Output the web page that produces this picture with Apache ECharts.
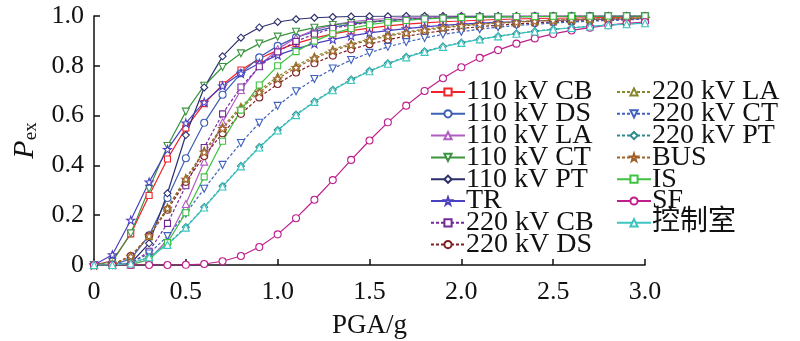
<!DOCTYPE html>
<html><head><meta charset="utf-8">
<script src="https://cdn.jsdelivr.net/npm/echarts@6/dist/echarts.min.js"></script>
<style>html,body{margin:0;padding:0;background:#fff}#c{width:800px;height:341px}</style>
</head><body><div id="c"></div>
<script>
const PGA = [0,0.1,0.2,0.3,0.4,0.5,0.6,0.7,0.8,0.9,1.0,1.1,1.2,1.3,1.4,1.5,1.6,1.7,1.8,1.9,2.0,2.1,2.2,2.3,2.4,2.5,2.6,2.7,2.8,2.9,3.0];
const CB110 = [0,0.017,0.125,0.279,0.426,0.55,0.648,0.724,0.783,0.828,0.863,0.89,0.911,0.928,0.941,0.951,0.96,0.967,0.972,0.977,0.98,0.983,0.986,0.988,0.99,0.991,0.992,0.993,0.994,0.995,0.996];
const DS110 = [0,0.0004,0.024,0.119,0.269,0.429,0.571,0.684,0.77,0.834,0.88,0.914,0.937,0.955,0.967,0.976,0.982,0.987,0.99,0.992,0.994,0.996,0.997,0.997,0.998,0.998,0.999,0.999,0.999,0.999,1];
const LA110 = [0,0,0.001,0.022,0.101,0.245,0.415,0.573,0.703,0.799,0.867,0.913,0.944,0.964,0.977,0.985,0.99,0.994,0.996,0.997,0.998,0.999,0.999,0.999,1,1,1,1,1,1,1];
const CT110 = [0,0.013,0.127,0.306,0.478,0.616,0.72,0.795,0.85,0.889,0.917,0.937,0.953,0.964,0.972,0.978,0.983,0.987,0.99,0.992,0.993,0.995,0.996,0.996,0.997,0.998,0.998,0.998,0.999,0.999,0.999];
const PT110 = [0,0,0.007,0.087,0.288,0.522,0.713,0.838,0.913,0.954,0.976,0.987,0.993,0.996,0.998,0.999,0.999,1,1,1,1,1,1,1,1,1,1,1,1,1,1];
const TR = [0,0.041,0.18,0.333,0.464,0.57,0.654,0.719,0.77,0.81,0.843,0.868,0.889,0.906,0.92,0.932,0.941,0.949,0.956,0.962,0.967,0.971,0.974,0.977,0.98,0.982,0.984,0.986,0.987,0.988,0.99];
const CB220 = [0,0,0.006,0.055,0.167,0.318,0.472,0.607,0.715,0.796,0.856,0.898,0.928,0.95,0.964,0.975,0.982,0.987,0.991,0.993,0.995,0.997,0.998,0.998,0.999,0.999,0.999,1,1,1,1];
const DS220 = [0,0.002,0.036,0.116,0.222,0.334,0.438,0.529,0.607,0.673,0.727,0.773,0.81,0.841,0.866,0.887,0.905,0.919,0.931,0.941,0.95,0.957,0.963,0.968,0.972,0.976,0.979,0.982,0.984,0.986,0.988];
const LA220 = [0,0.002,0.034,0.117,0.23,0.349,0.459,0.555,0.636,0.702,0.757,0.801,0.837,0.866,0.889,0.908,0.924,0.936,0.947,0.956,0.963,0.968,0.973,0.977,0.981,0.983,0.986,0.988,0.99,0.991,0.992];
const CT220 = [0,0,0.009,0.046,0.116,0.207,0.306,0.402,0.49,0.571,0.639,0.698,0.747,0.789,0.823,0.852,0.876,0.895,0.912,0.926,0.937,0.947,0.955,0.962,0.967,0.972,0.976,0.979,0.982,0.985,0.987];
const PT220 = [0,0,0.006,0.032,0.084,0.152,0.233,0.317,0.398,0.474,0.542,0.604,0.657,0.704,0.745,0.78,0.81,0.836,0.858,0.878,0.893,0.907,0.919,0.93,0.939,0.947,0.953,0.959,0.964,0.968,0.972];
const BUS = [0,0.002,0.035,0.117,0.228,0.345,0.453,0.548,0.628,0.694,0.748,0.793,0.83,0.86,0.884,0.903,0.919,0.932,0.943,0.952,0.96,0.966,0.971,0.975,0.979,0.982,0.985,0.987,0.989,0.99,0.991];
const IS = [0,0,0.001,0.022,0.09,0.21,0.354,0.497,0.622,0.723,0.8,0.857,0.899,0.929,0.95,0.965,0.975,0.982,0.988,0.991,0.994,0.996,0.997,0.998,0.998,0.999,0.999,0.999,1,1,1];
const SF = [0,0,0,0,0.0001,0.0008,0.004,0.015,0.036,0.072,0.123,0.188,0.262,0.341,0.422,0.5,0.573,0.64,0.699,0.75,0.794,0.832,0.863,0.889,0.91,0.928,0.942,0.953,0.963,0.97,0.976];
const CTRL = [0,0.0001,0.006,0.031,0.081,0.15,0.231,0.315,0.396,0.472,0.54,0.602,0.655,0.702,0.743,0.778,0.808,0.834,0.856,0.876,0.892,0.906,0.918,0.929,0.938,0.946,0.952,0.958,0.963,0.967,0.971];

const X_TICKS = ['0','0.5','1.0','1.5','2.0','2.5','3.0'];
const Y_TICKS = ['0','0.2','0.4','0.6','0.8','1.0'];

const STAR = 'path://M0,-10 L2.35,-3.24 L9.51,-3.09 L3.8,1.24 L5.88,8.09 L0,4 L-5.88,8.09 L-3.8,1.24 L-9.51,-3.09 L-2.35,-3.24 Z';

const SERIES = [
  ['110 kV CB', CB110, '#f0232a', 'rect', 0, 'solid'],
  ['110 kV DS', DS110, '#3d5fb5', 'circle', 0, 'solid'],
  ['110 kV LA', LA110, '#b25cc6', 'triangle', 0, 'solid'],
  ['110 kV CT', CT110, '#3b9440', 'triangle', 180, 'solid'],
  ['110 kV PT', PT110, '#2c2f6c', 'diamond', 0, 'solid'],
  ['TR', TR, '#4b3fc2', STAR, 0, 'solid'],
  ['220 kV CB', CB220, '#74299a', 'rect', 0, 'dashed'],
  ['220 kV DS', DS220, '#7f1f24', 'circle', 0, 'dashed'],
  ['220 kV LA', LA220, '#86862a', 'triangle', 0, 'dashed'],
  ['220 kV CT', CT220, '#3f62bf', 'triangle', 180, 'dashed'],
  ['220 kV PT', PT220, '#2e8c8e', 'diamond', 0, 'dashed'],
  ['BUS', BUS, '#a0602a', STAR, 0, 'dashed'],
  ['IS', IS, '#3ec240', 'rect', 0, 'solid'],
  ['SF', SF, '#bf1f8d', 'circle', 0, 'solid'],
  ['控制室', CTRL, '#3cc4c0', 'triangle', 0, 'solid']
];

const FONT = '"Liberation Serif","Times New Roman","Noto Sans CJK SC",serif';

const chart = echarts.init(document.getElementById('c'), null, {renderer:'canvas'});
const series = SERIES.map(s => ({
  name: s[0], type: 'line',
  data: PGA.map((x,i) => [x, s[1][i]]),
  symbol: s[3], symbolRotate: s[4],
  symbolSize: s[3] === 'rect' ? 6 : (s[3]===STAR ? 8 : 7),
  showAllSymbol: true,
  lineStyle: {color: s[2], width: 1.2, type: s[5] === 'dashed' ? [3,2] : 'solid'},
  itemStyle: {color: '#fff', borderColor: s[2], borderWidth: 1.1},
  emphasis: {disabled: true},
  z: 2
}));

const legendCommon = {
  orient: 'vertical', itemWidth: 34, itemHeight: 9, itemGap: -6.2,
  textStyle: {fontFamily: FONT, fontSize: 28, color: '#111', lineHeight: 21.8, padding: [0,0,0,-4]},
  backgroundColor: 'transparent'
};

chart.setOption({
  animation: false,
  grid: {left: 94, right: 155, top: 16, bottom: 76, outerBoundsMode: 'none', containLabel: false},
  legend: [
    Object.assign({left: 425, top: 73, data: SERIES.slice(0,8).map(s=>s[0])}, legendCommon),
    Object.assign({left: 611, top: 73, data: SERIES.slice(8).map(s=>s[0])}, legendCommon)
  ],
  xAxis: {
    type: 'value', min: 0, max: 3, interval: 0.5,
    name: 'PGA/g', nameLocation: 'middle', nameGap: 47,
    nameTextStyle: {fontFamily: FONT, fontSize: 27, color: '#111'},
    axisLine: {lineStyle: {color: '#111', width: 1.5}},
    axisTick: {inside: true, length: 6, lineStyle: {color: '#111', width: 1.5}},
    axisLabel: {margin: 14, fontFamily: FONT, fontSize: 26, color: '#111',
      formatter: v => X_TICKS[Math.round(v/0.5)]},
    splitLine: {show: false}
  },
  yAxis: {
    type: 'value', min: 0, max: 1, interval: 0.2,
    name: '{i|P}{s|ex}', nameLocation: 'middle', nameGap: 46, nameRotate: 90,
    nameTextStyle: {rich: {
      i: {fontFamily: FONT, fontStyle: 'italic', fontSize: 30, color: '#111'},
      s: {fontFamily: FONT, fontSize: 19, color: '#111', padding: [12,0,0,0]}
    }},
    axisLine: {show: true, lineStyle: {color: '#111', width: 1.5}},
    axisTick: {show: true, inside: true, length: 6, lineStyle: {color: '#111', width: 1.5}},
    axisLabel: {margin: 10, fontFamily: FONT, fontSize: 26, color: '#111',
      formatter: v => Y_TICKS[Math.round(v/0.2)]},
    splitLine: {show: false}
  },
  series: series
});
</script></body></html>
